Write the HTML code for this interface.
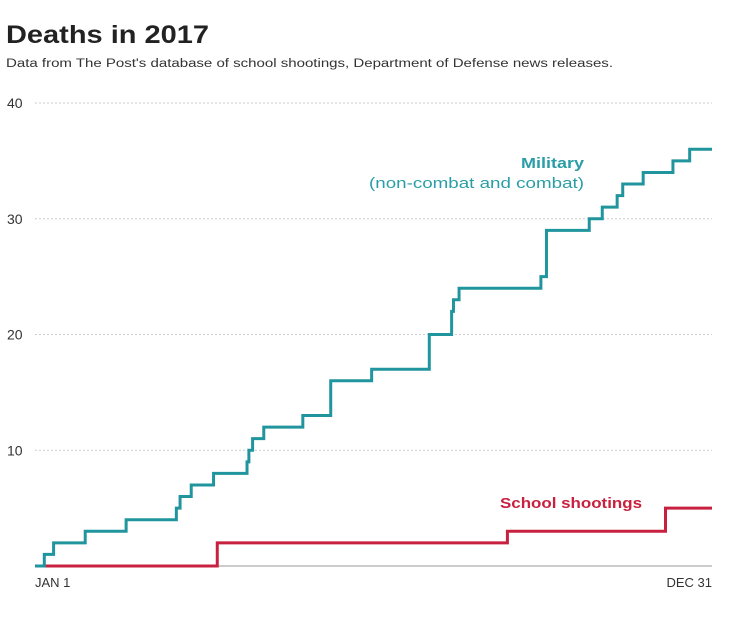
<!DOCTYPE html>
<html><head><meta charset="utf-8"><style>
body{margin:0;background:#fff;width:750px;height:616px;overflow:hidden;font-family:"Liberation Sans",sans-serif}
</style></head><body>
<svg width="750" height="616">
<text x="6" y="43" font-size="25" font-weight="bold" fill="#222" textLength="203" lengthAdjust="spacingAndGlyphs">Deaths in 2017</text>
<text x="6" y="67" font-size="11.5" fill="#333" textLength="607" lengthAdjust="spacingAndGlyphs">Data from The Post's database of school shootings, Department of Defense news releases.</text>
<g id="grid"></g>
<g id="lines"></g>
<text x="584" y="168" text-anchor="end" font-size="15" font-weight="bold" fill="#2a9ea6" textLength="63" lengthAdjust="spacingAndGlyphs">Military</text>
<text x="584" y="188" text-anchor="end" font-size="15" fill="#2a9ea6" textLength="215" lengthAdjust="spacingAndGlyphs">(non-combat and combat)</text>
<text x="642" y="508" text-anchor="end" font-size="15" font-weight="bold" fill="#c8203f" textLength="142" lengthAdjust="spacingAndGlyphs">School shootings</text>
<text x="35" y="587" font-size="13" fill="#333">JAN 1</text>
<text x="712" y="587" text-anchor="end" font-size="13" fill="#333">DEC 31</text>
</svg>
<script>
const yTicks=[10,20,30,40];
const milDays=[5,10,27,49,76,78,84,96,114,115,117,123,144,159,181,212,224,225,228,272,275,298,305,313,316,327,343,352];
const milVals=[1,2,3,4,5,6,7,8,9,10,11,12,13,16,17,20,22,23,24,25,29,30,31,32,33,34,35,36];
const schDays=[98,254,339];
const schVals=[2,3,5];
const x=d=>35+d/364*677;
const y=v=>566-v*(463/40);
const NS="http://www.w3.org/2000/svg";
const grid=document.getElementById('grid');
yTicks.forEach(t=>{
 const l=document.createElementNS(NS,'line');
 l.setAttribute('x1',35);l.setAttribute('x2',712);l.setAttribute('y1',y(t));l.setAttribute('y2',y(t));
 l.setAttribute('stroke','#ccc');l.setAttribute('stroke-dasharray','2,2');
 
 
 grid.appendChild(l);
 const tx=document.createElementNS(NS,'text');
 tx.setAttribute('x',7);tx.setAttribute('y',y(t)+5);tx.setAttribute('font-size','14');tx.setAttribute('fill','#333');
 tx.textContent=t;
 
 
 grid.appendChild(tx);
});
const base=document.createElementNS(NS,'line');
base.setAttribute('x1',35);base.setAttribute('x2',712);base.setAttribute('y1',566);base.setAttribute('y2',566);base.setAttribute('stroke','#999');


grid.appendChild(base);
function step(days,vals){
 let d=`M${x(0)},${y(0)}`;
 days.forEach((dd,i)=>{d+=` H${x(dd)} V${y(vals[i])}`;});
 d+=` H${x(364)}`;return d;
}
const lines=document.getElementById('lines');
const s=document.createElementNS(NS,'path');
s.setAttribute('d',step(schDays,schVals));s.setAttribute('fill','none');s.setAttribute('stroke','#c8203f');s.setAttribute('stroke-width','3');


lines.appendChild(s);
const m=document.createElementNS(NS,'path');
m.setAttribute('d',step(milDays,milVals));m.setAttribute('fill','none');m.setAttribute('stroke','#21959e');m.setAttribute('stroke-width','3');


lines.appendChild(m);
</script>
</body></html>
